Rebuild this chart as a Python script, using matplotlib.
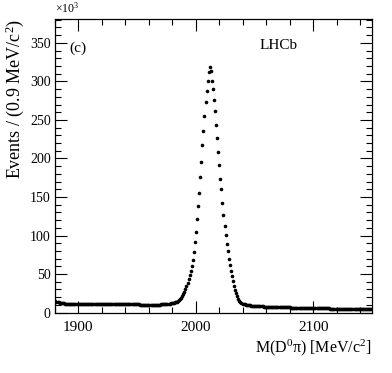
import numpy as np
import matplotlib
matplotlib.use("Agg")
import matplotlib.pyplot as plt
from matplotlib.ticker import MultipleLocator

plt.rcParams["font.family"] = ["Liberation Serif", "DejaVu Serif"]
plt.rcParams["mathtext.fontset"] = "custom"
plt.rcParams["mathtext.rm"] = "Liberation Serif"
plt.rcParams["mathtext.it"] = "Liberation Serif:italic"

# M(D0 pi) histogram, 0.9 MeV bins from 1880 to 2150, counts in units of 10^3
bin_lo = 1880.0
bin_width = 0.9
counts = [
    15.0, 14.3, 13.7, 13.2, 12.8, 12.5, 12.2, 12.0, 11.8, 11.6,
    11.5, 11.4, 11.3, 11.2, 11.2, 11.1, 11.1, 11.0, 11.0, 11.0,
    10.9, 10.9, 10.9, 10.9, 10.9, 11.0, 11.0, 11.0, 11.0, 11.1,
    11.1, 11.1, 11.1, 11.2, 11.2, 11.2, 11.2, 11.3, 11.3, 11.3,
    11.3, 11.4, 11.4, 11.4, 11.4, 11.5, 11.5, 11.5, 11.5, 11.6,
    11.6, 11.6, 11.6, 11.6, 11.7, 11.7, 11.7, 11.7, 11.7, 11.6,
    11.6, 11.6, 11.5, 11.5, 11.4, 11.4, 11.3, 11.3, 11.2, 11.1,
    11.1, 11.0, 10.9, 10.9, 10.8, 10.7, 10.7, 10.6, 10.5, 10.5,
    10.4, 10.4, 10.3, 10.3, 10.2, 10.2, 10.2, 10.1, 10.1, 10.1,
    10.1, 10.1, 10.1, 10.1, 10.2, 10.2, 10.2, 10.3, 10.3, 10.4,
    10.5, 10.6, 10.7, 10.8, 10.9, 11.1, 11.3, 11.5, 11.7, 11.9,
    12.1, 12.4, 12.7, 13.1, 13.6, 14.2, 15.0, 16.0, 17.3, 19.0,
    21.3, 23.8, 26.8, 30.2, 34.2, 38.6, 43.2, 48.2, 53.6, 60.0,
    68.0, 79.0, 91.0, 104.5, 121.0, 138.0, 155.5, 175.5, 195.0, 217.0,
    236.0, 255.0, 273.0, 288.0, 301.0, 312.0, 318.5, 313.0, 301.0, 290.5,
    275.5, 261.0, 244.0, 226.0, 208.5, 191.0, 174.0, 161.0, 142.0, 127.0,
    113.0, 101.0, 89.5, 79.5, 70.0, 61.5, 54.0, 47.0, 41.0, 35.0,
    29.5, 25.0, 21.0, 18.0, 15.5, 13.8, 12.5, 11.6, 11.0, 10.5,
    10.1, 9.8, 9.6, 9.4, 9.2, 9.0, 8.9, 8.8, 8.6, 8.5,
    8.4, 8.3, 8.2, 8.1, 8.0, 7.9, 7.9, 7.8, 7.8, 7.7,
    7.6, 7.6, 7.5, 7.5, 7.4, 7.4, 7.3, 7.3, 7.2, 7.2,
    7.1, 7.1, 7.0, 7.0, 6.9, 6.9, 6.8, 6.8, 6.7, 6.7,
    6.6, 6.6, 6.6, 6.5, 6.5, 6.4, 6.4, 6.3, 6.3, 6.3,
    6.2, 6.2, 6.1, 6.1, 6.1, 6.0, 6.0, 6.0, 5.9, 5.9,
    5.9, 5.8, 5.8, 5.8, 5.7, 5.7, 5.7, 5.6, 5.6, 5.6,
    5.5, 5.5, 5.5, 5.4, 5.4, 5.4, 5.3, 5.3, 5.3, 5.3,
    5.2, 5.2, 5.2, 5.1, 5.1, 5.1, 5.1, 5.0, 5.0, 5.0,
    5.0, 4.9, 4.9, 4.9, 4.9, 4.8, 4.8, 4.8, 4.8, 4.7,
    4.7, 4.7, 4.7, 4.7, 4.6, 4.6, 4.6, 4.6, 4.6, 4.5,
    4.5, 4.5, 4.5, 4.5, 4.4, 4.4, 4.4, 4.4, 4.4, 4.3,
]
centers = bin_lo + bin_width * (np.arange(len(counts)) + 0.5)

fig = plt.figure(figsize=(3.92, 3.73), dpi=100)
ax = fig.add_axes([0.140, 0.162, 0.809, 0.787])
ax.plot(centers, counts, "o", color="black", ms=2.6, mew=0)

ax.set_xlim(1880, 2150)
ax.set_ylim(0, 381)
ax.xaxis.set_major_locator(MultipleLocator(100))
ax.xaxis.set_minor_locator(MultipleLocator(20))
ax.yaxis.set_major_locator(MultipleLocator(50))
ax.yaxis.set_minor_locator(MultipleLocator(10))
ax.tick_params(which="both", direction="in", top=True, right=True, width=0.8)
ax.tick_params(which="major", length=8.5)
ax.tick_params(which="minor", length=4.5)
ax.tick_params(axis="x", labelsize=11, pad=6)
ax.tick_params(axis="y", labelsize=10, pad=3)
for s in ax.spines.values():
    s.set_linewidth(0.9)

# axis titles placed the ROOT way: y title at top-left, x title at bottom-right
fig.text(15 / 392, 1 - 19 / 373, "Events / (0.9 MeV/c$^{2}$)", rotation=90,
         ha="center", va="top", fontsize=13)
ax.set_xlabel("M(D$^{0}$π) [MeV/c$^{2}$]", fontsize=11.5, ha="right")
ax.xaxis.set_label_coords(1.0, -0.085)

ax.text(0.0, 1.012, "×10$^{3}$", transform=ax.transAxes, fontsize=8.5, va="bottom")
ax.text(0.045, 0.9, "(c)", transform=ax.transAxes, fontsize=11, va="center")
ax.text(0.705, 0.91, "LHCb", transform=ax.transAxes, fontsize=11, va="center", ha="center")

fig.savefig("out.png", dpi=100)
